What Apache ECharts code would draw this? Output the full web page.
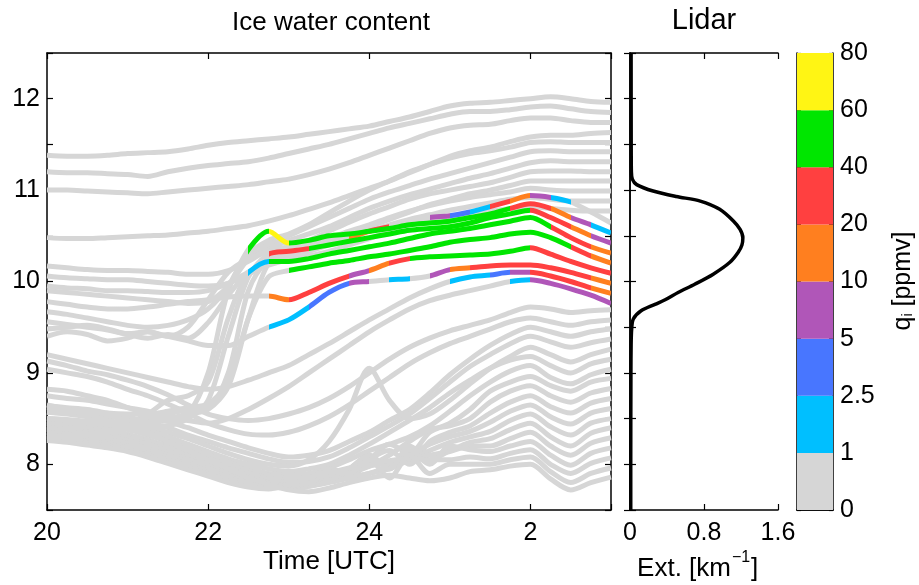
<!DOCTYPE html>
<html><head><meta charset="utf-8">
<script src="https://cdn.jsdelivr.net/npm/echarts@6/dist/echarts.min.js"></script>
<style>html,body{margin:0;padding:0;background:#fff}#c{width:919px;height:585px}</style>
</head><body><div id="c"></div>
<script>
// ---------- data ----------
const times = [20,20.25,20.5,20.75,21,21.25,21.5,21.75,22,22.25,22.5,22.75,23,23.25,23.5,23.75,24,24.25,24.5,24.75,25,25.25,25.5,25.75,26,26.25,26.5,26.75,27];
const timeTickValues = [20,22,24,26];
const timeTickLabels = ['20','22','24','2'];

// altitude [km] of each backward trajectory at the times above
const altitudes = [
 [11.38,11.37,11.37,11.38,11.40,11.41,11.42,11.45,11.49,11.52,11.54,11.56,11.58,11.61,11.64,11.67,11.70,11.75,11.80,11.86,11.92,11.95,11.96,11.98,12.00,12.02,12.00,11.97,11.96],
 [11.20,11.19,11.19,11.18,11.17,11.15,11.20,11.24,11.27,11.29,11.31,11.35,11.40,11.45,11.50,11.56,11.62,11.68,11.73,11.78,11.83,11.86,11.86,11.88,11.91,11.92,11.89,11.86,11.85],
 [11.00,11.00,10.99,10.98,10.97,10.96,10.98,11.00,11.02,11.04,11.06,11.09,11.12,11.17,11.23,11.30,11.38,11.46,11.54,11.62,11.68,11.71,11.72,11.76,11.79,11.79,11.76,11.74,11.74],
 [10.48,10.47,10.47,10.48,10.49,10.50,10.51,10.53,10.55,10.58,10.61,10.66,10.72,10.79,10.86,10.94,11.02,11.10,11.19,11.28,11.37,11.43,11.47,11.53,11.58,11.60,11.60,11.62,11.63],
 [8.57,8.56,8.55,8.53,8.50,8.48,8.47,8.55,9.00,9.90,10.30,10.45,10.52,10.62,10.75,10.88,11.00,11.10,11.20,11.28,11.35,11.40,11.43,11.47,11.52,11.53,11.52,11.52,11.52],
 [9.90,9.88,9.86,9.84,9.82,9.80,9.78,9.76,9.78,9.95,10.25,10.40,10.50,10.60,10.70,10.80,10.90,10.98,11.05,11.12,11.18,11.24,11.30,11.36,11.42,11.43,11.42,11.42,11.42],
 [10.17,10.15,10.13,10.12,10.12,10.11,10.10,10.08,10.08,10.12,10.22,10.35,10.45,10.52,10.60,10.70,10.80,10.88,10.95,11.01,11.07,11.13,11.18,11.24,11.30,11.32,11.31,11.31,11.31],
 [8.42,8.42,8.43,8.45,8.47,8.50,8.55,8.60,8.62,9.00,9.90,10.25,10.38,10.45,10.55,10.65,10.74,10.82,10.90,10.96,11.00,11.04,11.08,11.14,11.20,11.21,11.21,11.20,11.20],
 [10.06,10.04,10.03,10.02,10.02,10.00,9.98,9.96,9.95,9.98,10.08,10.20,10.30,10.38,10.45,10.52,10.60,10.68,10.76,10.84,10.90,10.96,11.00,11.05,11.10,11.10,11.10,11.10,11.10],
 [9.56,9.53,9.50,9.47,9.43,9.45,9.40,9.50,9.80,10.10,10.25,10.33,10.38,10.42,10.48,10.55,10.62,10.70,10.77,10.83,10.88,10.92,10.95,10.98,11.02,11.00,10.99,10.99,10.99],
 [9.95,9.93,9.92,9.90,9.90,9.89,9.88,9.88,9.90,9.98,10.10,10.20,10.27,10.33,10.40,10.47,10.55,10.62,10.68,10.73,10.78,10.82,10.86,10.90,10.92,10.90,10.88,10.88,10.88],
 [8.35,8.36,8.38,8.40,8.45,8.55,8.70,8.75,8.90,9.60,10.10,10.18,10.24,10.28,10.33,10.40,10.47,10.55,10.62,10.67,10.70,10.74,10.77,10.80,10.82,10.80,10.78,10.77,10.77],
 [8.30,8.30,8.32,8.35,8.40,8.45,8.50,8.55,8.60,8.85,9.60,10.20,10.30,10.36,10.42,10.48,10.55,10.60,10.65,10.70,10.72,10.76,10.82,10.88,10.94,10.92,10.87,10.76,10.64],
 [9.67,9.64,9.60,9.56,9.52,9.50,9.52,9.58,9.70,9.95,10.35,10.55,10.42,10.45,10.50,10.52,10.55,10.58,10.62,10.64,10.66,10.70,10.74,10.80,10.85,10.80,10.70,10.62,10.53],
 [8.50,8.49,8.47,8.45,8.42,8.40,8.42,8.50,8.70,9.40,10.05,10.30,10.33,10.36,10.40,10.44,10.48,10.52,10.56,10.58,10.60,10.64,10.70,10.74,10.78,10.70,10.60,10.50,10.42],
 [9.48,9.50,9.52,9.48,9.42,9.38,9.42,9.38,9.55,9.85,10.10,10.22,10.22,10.25,10.30,10.34,10.38,10.42,10.47,10.52,10.55,10.58,10.62,10.66,10.70,10.60,10.48,10.38,10.31],
 [8.62,8.60,8.58,8.56,8.55,8.55,8.58,8.62,8.66,8.90,9.60,10.05,10.12,10.16,10.20,10.23,10.27,10.30,10.34,10.38,10.43,10.46,10.48,10.52,10.54,10.48,10.38,10.28,10.20],
 [9.78,9.75,9.72,9.70,9.70,9.72,9.75,9.78,9.80,9.83,9.84,9.84,9.80,9.88,9.98,10.06,10.12,10.20,10.25,10.27,10.28,10.29,10.30,10.33,10.37,10.30,10.22,10.15,10.09],
 [9.40,9.45,9.42,9.35,9.38,9.45,9.40,9.35,9.30,9.30,9.40,9.50,9.58,9.72,9.88,9.98,10.00,10.02,10.03,10.06,10.13,10.15,10.17,10.18,10.18,10.15,10.10,10.04,9.98],
 [9.20,9.15,9.10,9.05,9.00,8.95,8.90,8.85,8.82,8.85,8.92,9.00,9.08,9.20,9.32,9.45,9.58,9.70,9.82,9.92,10.00,10.05,10.07,10.10,10.10,10.06,10.00,9.93,9.87],
 [8.75,8.72,8.70,8.66,8.62,8.58,8.52,8.48,8.45,8.50,8.60,8.72,8.85,9.00,9.15,9.30,9.45,9.58,9.70,9.79,9.85,9.90,9.95,10.00,10.02,9.98,9.92,9.85,9.76],
 [9.13,9.08,9.02,8.98,8.92,8.85,8.76,8.65,8.55,8.50,8.48,8.50,8.55,8.62,8.72,8.85,9.00,9.15,9.28,9.38,9.46,9.52,9.58,9.66,9.72,9.70,9.66,9.68,9.69],
 [9.04,9.00,8.96,8.90,8.82,8.75,8.66,8.56,8.45,8.38,8.33,8.32,8.35,8.42,8.52,8.65,8.80,8.95,9.10,9.22,9.32,9.40,9.48,9.56,9.60,9.56,9.52,9.56,9.58],
 [8.82,8.80,8.75,8.70,8.62,8.55,8.47,8.40,8.32,8.25,8.18,8.12,8.08,8.10,8.15,8.25,8.35,8.48,8.60,8.78,8.98,9.15,9.30,9.42,9.50,9.45,9.40,9.45,9.48],
 [8.64,8.62,8.60,8.56,8.52,8.46,8.40,8.32,8.25,8.18,8.12,8.06,8.02,8.03,8.08,8.18,8.30,8.42,8.55,8.72,8.90,9.07,9.20,9.32,9.40,9.34,9.28,9.33,9.37],
 [8.62,8.60,8.57,8.53,8.48,8.42,8.35,8.28,8.20,8.12,8.05,8.00,7.98,8.05,8.25,8.60,9.05,8.70,8.50,8.55,8.70,8.88,9.05,9.18,9.28,9.20,9.12,9.20,9.26],
 [8.57,8.55,8.52,8.48,8.43,8.37,8.30,8.22,8.14,8.06,8.00,7.95,7.92,7.95,8.00,8.10,8.22,8.35,8.48,8.62,8.78,8.92,9.05,9.14,9.18,9.08,9.00,9.10,9.15],
 [8.50,8.48,8.45,8.42,8.38,8.32,8.25,8.17,8.10,8.02,7.96,7.90,7.88,7.90,7.96,8.05,8.15,8.22,8.30,8.42,8.58,8.75,8.90,9.02,9.08,8.95,8.88,8.98,9.04],
 [8.47,8.45,8.42,8.38,8.33,8.27,8.20,8.13,8.06,7.99,7.93,7.88,7.85,7.86,7.95,7.90,8.05,8.22,8.12,8.35,8.45,8.60,8.80,8.90,8.96,8.86,8.80,8.90,8.94],
 [8.45,8.43,8.40,8.36,8.31,8.25,8.18,8.10,8.03,7.96,7.90,7.85,7.82,7.82,7.85,7.90,7.98,8.10,8.25,8.38,8.42,8.50,8.68,8.80,8.86,8.75,8.68,8.78,8.83],
 [8.42,8.40,8.38,8.35,8.30,8.24,8.17,8.09,8.02,7.95,7.88,7.83,7.80,7.80,7.90,7.85,8.05,8.15,8.00,8.25,8.35,8.42,8.56,8.68,8.75,8.63,8.56,8.67,8.72],
 [8.40,8.38,8.35,8.32,8.28,8.22,8.15,8.07,8.00,7.93,7.86,7.80,7.77,7.78,7.82,7.86,7.90,7.98,8.10,8.22,8.30,8.36,8.46,8.58,8.65,8.52,8.44,8.56,8.61],
 [8.38,8.36,8.33,8.30,8.26,8.20,8.13,8.05,7.98,7.90,7.84,7.78,7.75,7.76,7.80,7.85,7.90,7.95,8.05,8.15,8.24,8.30,8.36,8.48,8.55,8.41,8.32,8.45,8.50],
 [8.35,8.33,8.30,8.27,8.23,8.17,8.10,8.02,7.95,7.88,7.82,7.77,7.74,7.76,7.82,7.95,8.10,7.95,8.20,8.05,8.15,8.24,8.28,8.38,8.45,8.30,8.20,8.34,8.40],
 [8.32,8.30,8.27,8.24,8.20,8.14,8.07,8.00,7.93,7.86,7.80,7.76,7.74,7.78,7.85,7.92,7.98,8.02,8.06,8.10,8.14,8.20,8.20,8.28,8.35,8.20,8.10,8.23,8.29],
 [8.30,8.28,8.25,8.22,8.18,8.12,8.05,7.98,7.91,7.84,7.79,7.75,7.75,7.80,7.88,7.95,8.10,7.95,8.15,8.00,8.20,8.16,8.14,8.20,8.25,8.10,7.99,8.12,8.18],
 [8.28,8.26,8.23,8.20,8.16,8.10,8.03,7.96,7.89,7.82,7.77,7.74,7.76,7.82,7.90,7.96,8.00,8.04,8.06,8.05,8.05,8.08,8.06,8.12,8.16,8.00,7.90,8.01,8.07],
 [8.26,8.24,8.21,8.18,8.14,8.08,8.01,7.94,7.87,7.80,7.75,7.73,7.78,7.85,7.92,7.90,8.05,7.85,8.10,7.90,8.00,8.00,8.00,8.05,8.08,7.92,7.80,7.90,7.96],
 [8.65,8.60,8.55,8.48,8.42,8.35,8.25,8.15,8.05,7.95,7.85,7.78,7.72,7.70,7.74,7.80,7.85,7.88,7.85,7.82,7.85,7.92,7.94,7.98,8.00,7.84,7.72,7.80,7.86]
];

// ice water content q_i [ppmv] along the trajectories that carry ice (others: 0)
const iceContent = {
 12: [0,0,0,0,0,0,0,0,0,0,0,0,0,0,0,15,25,0,0,7,4,1.5,30,15,7,1.5,0,0,0],
 13: [0,0,0,0,0,0,0,0,0,0,50,65,50,50,50,50,50,50,50,50,50,50,50,30,30,15,7,1.5,4],
 14: [0,0,0,0,0,0,0,0,0,0,0,30,30,50,50,50,50,50,50,50,50,50,50,50,30,30,15,7,7],
 15: [0,0,0,0,0,0,0,0,0,0,1.5,50,50,50,50,50,50,50,50,50,50,50,50,50,50,30,30,15,7],
 16: [0,0,0,0,0,0,0,0,0,0,0,0,50,50,50,50,50,50,50,50,50,50,50,50,50,50,30,15,15],
 17: [0,0,0,0,0,0,0,0,0,0,0,15,30,30,30,7,15,30,50,50,50,50,50,50,30,30,30,30,30],
 18: [0,0,0,0,0,0,0,0,0,0,0,1.5,1.5,4,4,7,0,1.5,0,7,15,30,30,30,30,30,30,15,15],
 19: [0,0,0,0,0,0,0,0,0,0,0,0,0,0,0,0,0,0,0,0,1.5,1.5,4,7,30,30,30,15,15],
 20: [0,0,0,0,0,0,0,0,0,0,0,0,0,0,0,0,0,0,0,0,0,0,0,1.5,7,7,7,7,4]
};

const binEdges = [0,1,2.5,5,10,20,40,60,80];
const binLabels = ['0','1','2.5','5','10','20','40','60','80'];
const binColors = ['#d6d6d6','#00bfff','#4876ff','#b056b8','#ff7f1f','#ff4040','#00e600','#fff514'];

// lidar extinction profile
const lidarAlt = [12.5,11.5,11.2,11.12,11.06,10.99,10.93,10.88,10.79,10.66,10.57,10.48,10.40,10.32,10.21,10.08,9.97,9.88,9.80,9.75,9.68,9.59,9.48,9.30,9.0,8.0,7.5];
const lidarExt = [0.012,0.013,0.015,0.025,0.072,0.25,0.50,0.76,0.97,1.12,1.19,1.22,1.21,1.17,1.08,0.90,0.70,0.52,0.38,0.27,0.12,0.036,0.018,0.012,0.010,0.008,0.008];

// ---------- chart ----------
const FONT = '"Liberation Sans", Arial, Helvetica, sans-serif';
const chart = echarts.init(document.getElementById('c'), null, {renderer:'canvas'});

function binOf(q){ let b=0; for(let k=1;k<binEdges.length-1;k++){ if(q>=binEdges[k]) b=k; } return b; }
function piecesFor(q){
  const pieces=[]; const n=times.length; let i=0;
  while(i<n-1){
    const b=binOf(q[i]); let j=i;
    while(j+1<n-1 && binOf(q[j+1])===b) j++;
    const p={gte:times[i], color:binColors[b]};
    if(j+1===n-1) p.lte=times[n-1]; else p.lt=times[j+1];
    pieces.push(p); i=j+1;
  }
  return pieces;
}

const series=[]; const visualMaps=[];
const order=[];
altitudes.forEach((a,k)=>{ if(!iceContent[k]) order.push(k); });
altitudes.forEach((a,k)=>{ if(iceContent[k]) order.push(k); });
order.forEach(k=>{
  const si=series.length;
  const hasIce=!!iceContent[k];
  const ls={width:5, cap:'butt'};
  if(!hasIce) ls.color=binColors[0];
  series.push({type:'line', xAxisIndex:0, yAxisIndex:0, silent:true, showSymbol:false, symbol:'none',
    smooth:0.3, z: hasIce?4:2, lineStyle:ls,
    data: times.map((t,i)=>[t, altitudes[k][i]])});
  if(hasIce){
    visualMaps.push({type:'piecewise', show:false, dimension:0, seriesIndex:si, pieces:piecesFor(iceContent[k])});
  }
});

series.push({type:'line', xAxisIndex:2, yAxisIndex:2, silent:true, showSymbol:false, symbol:'none', smooth:0.3,
  lineStyle:{width:3.5, color:'#000'}, data: lidarAlt.map((z,i)=>[lidarExt[i], z])});

binColors.forEach((c,i)=>{
  series.push({type:'bar', xAxisIndex:4, yAxisIndex:4, stack:'cb', silent:true, barWidth:'100%', data:[1], itemStyle:{color:c}});
});

const axLine={show:true, lineStyle:{color:'#000', width:1.5}};
const tick={show:true, inside:true, length:6, lineStyle:{color:'#000', width:1.2}};
const lab={color:'#000', fontSize:25, fontFamily:FONT};
const noSplit={show:false};

const option={
  animation:false,
  backgroundColor:'#fff',
  grid:[
    {left:47, top:53, width:564, height:457},
    {left:630, top:53, width:148, height:457},
    {left:797, top:53, width:36, height:457}
  ],
  xAxis:[
    {gridIndex:0, type:'value', min:20, max:27, interval:2, position:'bottom', axisLine:axLine, axisTick:tick, splitLine:noSplit,
      axisLabel:Object.assign({margin:11, formatter:v=>{const i=timeTickValues.indexOf(Math.round(v*1000)/1000); return i<0?'':timeTickLabels[i];}}, lab)},
    {gridIndex:0, type:'value', min:20, max:27, interval:2, position:'top', axisLine:axLine, axisTick:tick, splitLine:noSplit, axisLabel:{show:false}},
    {gridIndex:1, type:'value', min:0, max:1.6, interval:0.8, position:'bottom', axisLine:axLine, axisTick:tick, splitLine:noSplit,
      axisLabel:Object.assign({margin:11, formatter:v=>String(+v.toFixed(1))}, lab)},
    {gridIndex:1, type:'value', min:0, max:1.6, interval:0.8, position:'top', axisLine:axLine, axisTick:tick, splitLine:noSplit, axisLabel:{show:false}},
    {gridIndex:2, type:'category', data:['q'], position:'bottom', axisLine:axLine, axisTick:{show:false}, axisLabel:{show:false}, splitLine:noSplit},
    {gridIndex:2, type:'category', data:['q'], position:'top', axisLine:axLine, axisTick:{show:false}, axisLabel:{show:false}, splitLine:noSplit}
  ],
  yAxis:[
    {gridIndex:0, type:'value', min:7.5, max:12.5, interval:0.5, position:'left', axisLine:axLine, axisTick:tick, splitLine:noSplit,
      axisLabel:Object.assign({margin:7, formatter:v=>Math.abs(v-Math.round(v))<1e-6 && v>7.9 && v<12.1 ? String(Math.round(v)) : ''}, lab)},
    {gridIndex:0, type:'value', min:7.5, max:12.5, interval:0.5, position:'right', axisLine:axLine, axisTick:tick, splitLine:noSplit, axisLabel:{show:false}},
    {gridIndex:1, type:'value', min:7.5, max:12.5, interval:0.5, position:'left', axisLine:axLine, axisTick:tick, splitLine:noSplit, axisLabel:{show:false}},
    {gridIndex:1, type:'value', min:7.5, max:12.5, interval:0.5, position:'right', axisLine:axLine, axisTick:tick, splitLine:noSplit, axisLabel:{show:false}},
    {gridIndex:2, type:'value', min:0, max:8, interval:1, position:'right', axisLine:axLine, axisTick:{show:true, inside:true, length:4, lineStyle:{color:'#000', width:1.2}}, splitLine:noSplit,
      axisLabel:Object.assign({margin:7, formatter:v=>binLabels[Math.round(v)]}, lab)},
    {gridIndex:2, type:'value', min:0, max:8, interval:1, position:'left', axisLine:axLine, axisTick:{show:true, inside:true, length:4, lineStyle:{color:'#000', width:1.2}}, splitLine:noSplit, axisLabel:{show:false}}
  ],
  visualMap: visualMaps,
  series: series,
  graphic:[
    {type:'text', x:331, y:23, silent:true, style:{text:'Ice water content', fontSize:26, fontFamily:FONT, fill:'#000', align:'center', verticalAlign:'middle'}},
    {type:'text', x:704, y:21, silent:true, style:{text:'Lidar', fontSize:29, fontFamily:FONT, fill:'#000', align:'center', verticalAlign:'middle'}},
    {type:'text', x:329, y:562, silent:true, style:{text:'Time [UTC]', fontSize:26, fontFamily:FONT, fill:'#000', align:'center', verticalAlign:'middle'}},
    {type:'text', x:731, y:569, silent:true, style:{text:'Ext. [km', fontSize:26, fontFamily:FONT, fill:'#000', align:'right', verticalAlign:'middle'}},
    {type:'text', x:732, y:558, silent:true, style:{text:'\u22121', fontSize:16, fontFamily:FONT, fill:'#000', align:'left', verticalAlign:'middle'}},
    {type:'text', x:751, y:569, silent:true, style:{text:']', fontSize:26, fontFamily:FONT, fill:'#000', align:'left', verticalAlign:'middle'}},
    {type:'text', x:903, y:281, rotation:Math.PI/2, silent:true, style:{text:'q{sub|i} [ppmv]', fontSize:25, fontFamily:FONT, fill:'#000', align:'center', verticalAlign:'middle',
      rich:{sub:{fontSize:14, fontFamily:FONT, fill:'#000', verticalAlign:'bottom', padding:[8,0,0,0]}}}}
  ]
};
chart.setOption(option);
</script>
</body></html>
